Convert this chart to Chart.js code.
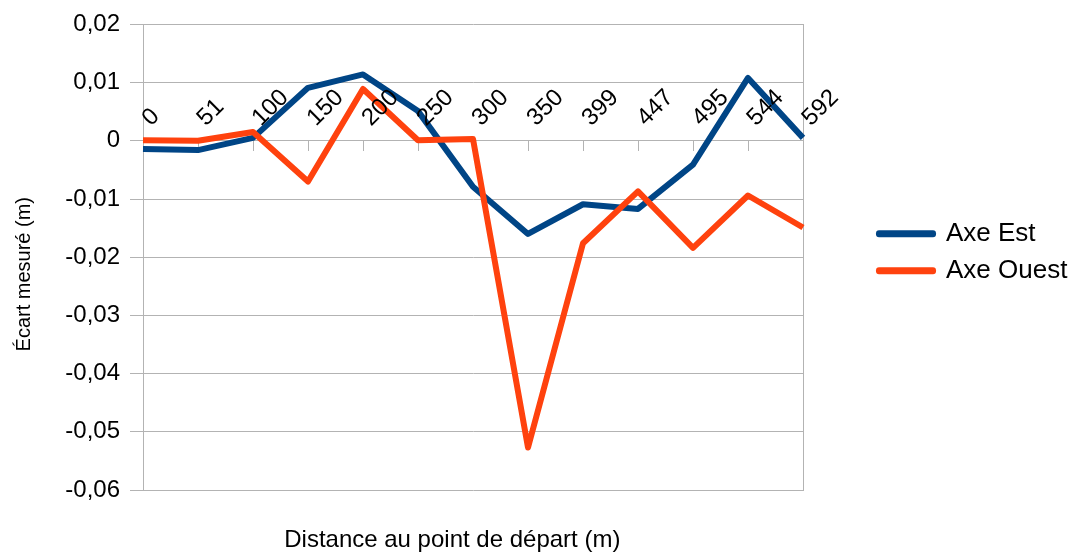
<!DOCTYPE html>
<html>
<head>
<meta charset="utf-8">
<script src="https://cdn.jsdelivr.net/npm/chart.js@4/dist/chart.umd.min.js"></script>
<style>
html,body{margin:0;padding:0;background:#fff;}
#wrap{width:1072px;height:552px;position:relative;}
</style>
</head>
<body>
<div id="wrap"><canvas id="chartEcart"></canvas></div>
<script>

// distances au point de départ (m)
const distances = ['0','51','100','150','200','250','300','350','399','447','495','544','592'];

// écarts mesurés (m)
const axeEst = [-0.0014,-0.0016,0.0005,0.0091,0.0114,0.0051,-0.0079,-0.0160,-0.0109,-0.0117,-0.0041,0.0108,0.0005];
const axeOuest = [0.0001,0.0000,0.0015,-0.0070,0.0089,0.0001,0.0003,-0.0527,-0.0176,-0.0087,-0.0184,-0.0094,-0.0149];

const xTitle = 'Distance au point de départ (m)';
const yTitle = 'Écart mesuré (m)';

const FONT = '"Liberation Sans", Arial, sans-serif';
const GRID = '#b3b3b3';

Chart.defaults.font.family = FONT;
Chart.defaults.color = '#000';

/* labels de l'axe X posés sur la ligne du zéro (45°), titres des axes */

const axisText = {
id:'axisText',
afterDatasetsDraw(chart){

let ctx = chart.ctx;
let x = chart.scales.x;
let y = chart.scales.y;
let area = chart.chartArea;
let y0 = y.getPixelForValue(0);

ctx.save();
ctx.font = '24px ' + FONT;
ctx.fillStyle = '#000';
ctx.textAlign = 'left';
ctx.textBaseline = 'alphabetic';

let rightEnd = 0;

chart.data.labels.forEach((lab,i)=>{

let px = x.getPixelForValue(i);

ctx.save();
ctx.translate(px+8, y0-14);
ctx.rotate(-Math.PI/4);
ctx.fillText(lab,0,0);
ctx.restore();

rightEnd = Math.max(rightEnd, px+8+ctx.measureText(lab).width*Math.SQRT1_2);

});

// titre X centré entre le bord gauche des graduations Y et la fin des labels X
let leftEnd = area.left - 13 - 10 - ctx.measureText('-0,06').width;

ctx.textAlign = 'center';
ctx.fillText(xTitle, (leftEnd+rightEnd)/2, 547);

// titre Y
ctx.font = '20px ' + FONT;
ctx.textBaseline = 'middle';
ctx.save();
ctx.translate(24, (area.top+area.bottom)/2 + 17);
ctx.rotate(-Math.PI/2);
ctx.fillText(yTitle,0,0);
ctx.restore();

ctx.restore();
}
};

/* légende remontée de quelques pixels */

const legendShift = {
id:'legendShift',
afterLayout(chart){
if(!chart.legend) return;
chart.legend.top -= 5;
chart.legend.bottom -= 5;
}
};

function fmt(v){
if(Math.abs(v)<1e-9) return '0';
return v.toFixed(2).replace('.',',');
}

new Chart(document.getElementById('chartEcart'),{

type:'line',

data:{
labels:distances,
datasets:[
{
label:'Axe Est',
data:axeEst,
borderColor:'#004586',
backgroundColor:'#004586',
borderWidth:6,
borderJoinStyle:'round',
pointRadius:0,
tension:0,
order:1
},
{
label:'Axe Ouest',
data:axeOuest,
borderColor:'#ff420e',
backgroundColor:'#ff420e',
borderWidth:6,
borderJoinStyle:'round',
pointRadius:0,
tension:0,
order:0
}
]
},

options:{
responsive:true,
maintainAspectRatio:false,
animation:false,
devicePixelRatio:1,

layout:{
padding:{top:22,right:0,bottom:62,left:0}
},

plugins:{

legend:{
position:'right',
fullSize:false,
maxWidth:204,
reverse:true,
labels:{
font:{size:26},
boxWidth:54,
boxHeight:1,
padding:11
}
},

title:{display:false},
tooltip:{enabled:false}

},

scales:{

x:{
type:'category',
position:{y:0},
offset:false,
ticks:{display:false},
grid:{
display:true,
drawOnChartArea:false,
drawTicks:true,
tickLength:10,
color:GRID
},
border:{display:true,color:GRID}
},

y:{
min:-0.06,
max:0.02,
ticks:{
stepSize:0.01,
padding:10,
font:{size:24},
callback:v=>fmt(v)
},
grid:{
color:GRID,
tickLength:13
},
border:{display:true,color:GRID},
afterFit:s=>{s.width=143;}
},

// espace entre le graphe et la légende, avec le bord droit du cadre
yRight:{
position:'right',
ticks:{display:false},
grid:{display:false},
border:{display:true,color:GRID},
afterFit:s=>{s.width=65;}
}

}

},

plugins:[axisText,legendShift]

});

</script>
</body>
</html>
